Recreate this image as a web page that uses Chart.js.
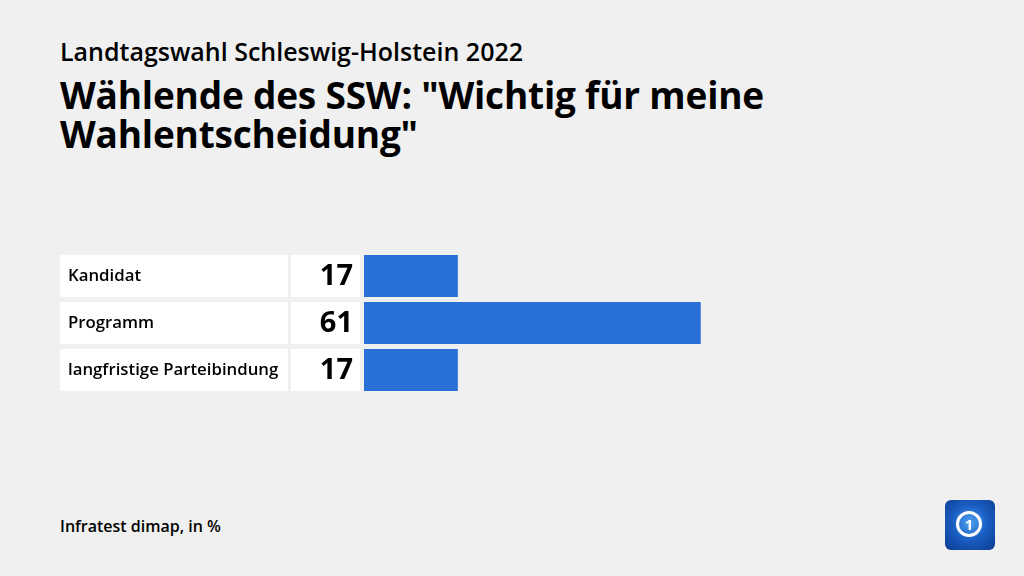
<!DOCTYPE html>
<html lang="de">
<head>
<meta charset="utf-8">
<script src="https://cdn.jsdelivr.net/npm/chart.js@4"></script>
<style>
  html, body { margin: 0; padding: 0; }
  body {
    width: 1024px; height: 576px; background: #f0f0f0; overflow: hidden;
    position: relative; font-family: "Open Sans", "Noto Sans", sans-serif; color: #000;
  }
  #sub { position: absolute; left: 60px; top: 34px; font-size: 25px; font-weight: 600; letter-spacing: 0; }
  #title { position: absolute; left: 60px; top: 75px; font-size: 37px; font-weight: 700; line-height: 39px; letter-spacing: -0.2px; }
  #source { position: absolute; left: 60px; top: 515px; font-size: 16px; font-weight: 600; }
  #chartBox { position: absolute; left: 0; top: 0; width: 1024px; height: 576px; }
  #logo {
    position: absolute; left: 945px; top: 500px; width: 50px; height: 50px; border-radius: 6px;
    background: radial-gradient(circle at 50% 45%, #4fa3f0 0%, #1a5fc4 45%, #0b3b8f 100%);
  }
  #logo .ring {
    position: absolute; left: 11px; top: 11px; width: 20px; height: 20px; border: 3px solid #fff;
    border-radius: 50%; color: #fff; font: 700 15px "Open Sans", sans-serif; text-align: center; line-height: 20px;
  }
</style>
</head>
<body>
<div id="sub">Landtagswahl Schleswig-Holstein 2022</div>
<div id="title">Wählende des SSW: "Wichtig für meine<br>Wahlentscheidung"</div>
<div id="source">Infratest dimap, in %</div>
<div id="chartBox"><canvas id="myChart"></canvas></div>
<div id="logo"><div class="ring">1</div></div>
<script>
// data
const categories = ['Kandidat', 'Programm', 'langfristige Parteibindung'];
const values = [17, 61, 17];

const barColor = 'rgb(40, 112, 216)';

// white label + value cells drawn next to each bar
const rowCells = {
    id: 'rowCells',
    beforeDatasetsDraw(chart) {
        const ctx = chart.ctx;
        const meta = chart.getDatasetMeta(0);
        ctx.save();
        meta.data.forEach((bar, i) => {
            const h = bar.height;
            const top = bar.y - h / 2;
            ctx.fillStyle = '#ffffff';
            ctx.fillRect(60, top, 228, h);
            ctx.fillRect(291, top, 69, h);

            ctx.fillStyle = '#000';
            ctx.textBaseline = 'middle';
            ctx.textAlign = 'left';
            ctx.font = '600 16.8px "Open Sans", sans-serif';
            ctx.fillText(categories[i], 68, bar.y);

            ctx.textAlign = 'right';
            ctx.font = '700 29px "Open Sans", sans-serif';
            ctx.fillText(String(values[i]), 353, bar.y + 1);
        });
        ctx.restore();
    }
};

const ctx = document.getElementById('myChart').getContext('2d');
window.myChart = new Chart(ctx, {
    type: 'bar',
    data: {
        labels: categories,
        datasets: [{
            data: values,
            backgroundColor: barColor,
            borderWidth: 0,
            barPercentage: 0.894,
            categoryPercentage: 1
        }]
    },
    options: {
        indexAxis: 'y',
        responsive: true,
        maintainAspectRatio: false,
        animation: false,
        layout: { padding: { left: 364, right: 108, top: 252.5, bottom: 182.5 } },
        plugins: { legend: { display: false }, tooltip: { enabled: false } },
        scales: {
            x: { min: 0, max: 100, display: false },
            y: { display: false }
        }
    },
    plugins: [rowCells]
});
</script>
</body>
</html>
